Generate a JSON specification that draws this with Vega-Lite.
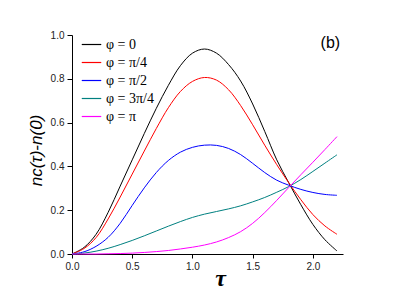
{
  "$schema": "https://vega.github.io/schema/vega-lite/v6.json",
  "width": 271,
  "height": 219,
  "autosize": {"type": "none"},
  "padding": {"left": 72, "top": 35, "right": 56, "bottom": 51},
  "background": "white",
  "config": {
    "view": {"stroke": null},
    "axis": {
      "domainColor": "#000000",
      "tickColor": "#000000",
      "labelFont": "Liberation Sans",
      "labelFontSize": 10,
      "labelColor": "#222222",
      "grid": false,
      "labelOverlap": false,
      "labelFlush": false,
      "labelBound": false
    },
    "legend": {"padding": 0}
  },
  "datasets": {
    "curves": [
      {"t": 0.0, "phi": "φ = 0", "v": 0.0},
      {"t": 0.1, "phi": "φ = 0", "v": 0.03},
      {"t": 0.2, "phi": "φ = 0", "v": 0.09},
      {"t": 0.3, "phi": "φ = 0", "v": 0.19},
      {"t": 0.4, "phi": "φ = 0", "v": 0.31},
      {"t": 0.5, "phi": "φ = 0", "v": 0.43},
      {"t": 0.6, "phi": "φ = 0", "v": 0.55},
      {"t": 0.7, "phi": "φ = 0", "v": 0.665},
      {"t": 0.8, "phi": "φ = 0", "v": 0.77},
      {"t": 0.9, "phi": "φ = 0", "v": 0.86},
      {"t": 1.0, "phi": "φ = 0", "v": 0.917},
      {"t": 1.1, "phi": "φ = 0", "v": 0.936},
      {"t": 1.2, "phi": "φ = 0", "v": 0.917},
      {"t": 1.3, "phi": "φ = 0", "v": 0.865},
      {"t": 1.4, "phi": "φ = 0", "v": 0.79},
      {"t": 1.5, "phi": "φ = 0", "v": 0.685},
      {"t": 1.6, "phi": "φ = 0", "v": 0.56},
      {"t": 1.7, "phi": "φ = 0", "v": 0.43},
      {"t": 1.8, "phi": "φ = 0", "v": 0.325},
      {"t": 1.9, "phi": "φ = 0", "v": 0.225},
      {"t": 2.0, "phi": "φ = 0", "v": 0.135},
      {"t": 2.1, "phi": "φ = 0", "v": 0.065},
      {"t": 2.2, "phi": "φ = 0", "v": 0.014},

      {"t": 0.0, "phi": "φ = π/4", "v": 0.0},
      {"t": 0.1, "phi": "φ = π/4", "v": 0.025},
      {"t": 0.2, "phi": "φ = π/4", "v": 0.075},
      {"t": 0.3, "phi": "φ = π/4", "v": 0.16},
      {"t": 0.4, "phi": "φ = π/4", "v": 0.26},
      {"t": 0.5, "phi": "φ = π/4", "v": 0.365},
      {"t": 0.6, "phi": "φ = π/4", "v": 0.47},
      {"t": 0.7, "phi": "φ = π/4", "v": 0.573},
      {"t": 0.8, "phi": "φ = π/4", "v": 0.668},
      {"t": 0.9, "phi": "φ = π/4", "v": 0.742},
      {"t": 1.0, "phi": "φ = π/4", "v": 0.788},
      {"t": 1.1, "phi": "φ = π/4", "v": 0.806},
      {"t": 1.2, "phi": "φ = π/4", "v": 0.794},
      {"t": 1.3, "phi": "φ = π/4", "v": 0.75},
      {"t": 1.4, "phi": "φ = π/4", "v": 0.678},
      {"t": 1.5, "phi": "φ = π/4", "v": 0.59},
      {"t": 1.6, "phi": "φ = π/4", "v": 0.497},
      {"t": 1.7, "phi": "φ = π/4", "v": 0.408},
      {"t": 1.8, "phi": "φ = π/4", "v": 0.325},
      {"t": 1.9, "phi": "φ = π/4", "v": 0.248},
      {"t": 2.0, "phi": "φ = π/4", "v": 0.18},
      {"t": 2.1, "phi": "φ = π/4", "v": 0.128},
      {"t": 2.2, "phi": "φ = π/4", "v": 0.09},

      {"t": 0.0, "phi": "φ = π/2", "v": 0.0},
      {"t": 0.1, "phi": "φ = π/2", "v": 0.01},
      {"t": 0.2, "phi": "φ = π/2", "v": 0.035},
      {"t": 0.3, "phi": "φ = π/2", "v": 0.076},
      {"t": 0.4, "phi": "φ = π/2", "v": 0.14},
      {"t": 0.5, "phi": "φ = π/2", "v": 0.222},
      {"t": 0.6, "phi": "φ = π/2", "v": 0.302},
      {"t": 0.7, "phi": "φ = π/2", "v": 0.372},
      {"t": 0.8, "phi": "φ = π/2", "v": 0.427},
      {"t": 0.9, "phi": "φ = π/2", "v": 0.465},
      {"t": 1.0, "phi": "φ = π/2", "v": 0.487},
      {"t": 1.1, "phi": "φ = π/2", "v": 0.497},
      {"t": 1.2, "phi": "φ = π/2", "v": 0.496},
      {"t": 1.3, "phi": "φ = π/2", "v": 0.482},
      {"t": 1.4, "phi": "φ = π/2", "v": 0.454},
      {"t": 1.5, "phi": "φ = π/2", "v": 0.414},
      {"t": 1.6, "phi": "φ = π/2", "v": 0.372},
      {"t": 1.7, "phi": "φ = π/2", "v": 0.337},
      {"t": 1.8, "phi": "φ = π/2", "v": 0.314},
      {"t": 1.9, "phi": "φ = π/2", "v": 0.295},
      {"t": 2.0, "phi": "φ = π/2", "v": 0.281},
      {"t": 2.1, "phi": "φ = π/2", "v": 0.272},
      {"t": 2.2, "phi": "φ = π/2", "v": 0.268},

      {"t": 0.0, "phi": "φ = 3π/4", "v": 0.0},
      {"t": 0.1, "phi": "φ = 3π/4", "v": 0.004},
      {"t": 0.2, "phi": "φ = 3π/4", "v": 0.013},
      {"t": 0.3, "phi": "φ = 3π/4", "v": 0.026},
      {"t": 0.4, "phi": "φ = 3π/4", "v": 0.043},
      {"t": 0.5, "phi": "φ = 3π/4", "v": 0.062},
      {"t": 0.6, "phi": "φ = 3π/4", "v": 0.083},
      {"t": 0.7, "phi": "φ = 3π/4", "v": 0.105},
      {"t": 0.8, "phi": "φ = 3π/4", "v": 0.127},
      {"t": 0.9, "phi": "φ = 3π/4", "v": 0.148},
      {"t": 1.0, "phi": "φ = 3π/4", "v": 0.167},
      {"t": 1.1, "phi": "φ = 3π/4", "v": 0.182},
      {"t": 1.2, "phi": "φ = 3π/4", "v": 0.194},
      {"t": 1.3, "phi": "φ = 3π/4", "v": 0.206},
      {"t": 1.4, "phi": "φ = 3π/4", "v": 0.22},
      {"t": 1.5, "phi": "φ = 3π/4", "v": 0.238},
      {"t": 1.6, "phi": "φ = 3π/4", "v": 0.258},
      {"t": 1.7, "phi": "φ = 3π/4", "v": 0.282},
      {"t": 1.8, "phi": "φ = 3π/4", "v": 0.308},
      {"t": 1.9, "phi": "φ = 3π/4", "v": 0.34},
      {"t": 2.0, "phi": "φ = 3π/4", "v": 0.377},
      {"t": 2.1, "phi": "φ = 3π/4", "v": 0.415},
      {"t": 2.2, "phi": "φ = 3π/4", "v": 0.453},

      {"t": 0.0, "phi": "φ = π", "v": 0.0},
      {"t": 0.1, "phi": "φ = π", "v": 0.0},
      {"t": 0.2, "phi": "φ = π", "v": 0.0},
      {"t": 0.3, "phi": "φ = π", "v": 0.001},
      {"t": 0.4, "phi": "φ = π", "v": 0.002},
      {"t": 0.5, "phi": "φ = π", "v": 0.004},
      {"t": 0.6, "phi": "φ = π", "v": 0.007},
      {"t": 0.7, "phi": "φ = π", "v": 0.011},
      {"t": 0.8, "phi": "φ = π", "v": 0.016},
      {"t": 0.9, "phi": "φ = π", "v": 0.023},
      {"t": 1.0, "phi": "φ = π", "v": 0.031},
      {"t": 1.1, "phi": "φ = π", "v": 0.041},
      {"t": 1.2, "phi": "φ = π", "v": 0.055},
      {"t": 1.3, "phi": "φ = π", "v": 0.075},
      {"t": 1.4, "phi": "φ = π", "v": 0.102},
      {"t": 1.5, "phi": "φ = π", "v": 0.14},
      {"t": 1.6, "phi": "φ = π", "v": 0.189},
      {"t": 1.7, "phi": "φ = π", "v": 0.245},
      {"t": 1.8, "phi": "φ = π", "v": 0.304},
      {"t": 1.9, "phi": "φ = π", "v": 0.362},
      {"t": 2.0, "phi": "φ = π", "v": 0.419},
      {"t": 2.1, "phi": "φ = π", "v": 0.477},
      {"t": 2.2, "phi": "φ = π", "v": 0.536}
    ]
  },
  "layer": [
    {
      "data": {"name": "curves"},
      "mark": {"type": "line", "strokeWidth": 1, "interpolate": "catmull-rom"},
      "encoding": {
        "x": {
          "field": "t",
          "type": "quantitative",
          "scale": {"domain": [0, 2.25], "nice": false, "zero": false},
          "axis": {
            "values": [0, 0.25, 0.5, 0.75, 1.0, 1.25, 1.5, 1.75, 2.0, 2.25],
            "format": ".1f",
            "labelExpr": "round(datum.value*4) % 2 == 0 ? datum.label : ''",
            "tickSize": 4,
            "labelPadding": 3,
            "title": "τ",
            "titleFont": "Liberation Serif",
            "titleFontStyle": "italic",
            "titleFontWeight": "bold",
            "titleFontSize": 24,
            "titleColor": "#000000",
            "titleX": 148,
            "titleY": 31,
            "titleAlign": "center",
            "titleBaseline": "alphabetic"
          }
        },
        "y": {
          "field": "v",
          "type": "quantitative",
          "scale": {"domain": [0, 1], "nice": false},
          "axis": {
            "values": [0, 0.1, 0.2, 0.3, 0.4, 0.5, 0.6, 0.7, 0.8, 0.9, 1.0],
            "format": ".1f",
            "labelExpr": "round(datum.value*10) % 2 == 0 ? datum.label : ''",
            "tickSize": 5,
            "labelPadding": 3,
            "title": "nc(τ)-n(0)",
            "titleFont": "Liberation Sans",
            "titleFontStyle": "italic",
            "titleFontWeight": "normal",
            "titleFontSize": 17,
            "titleColor": "#000000",
            "titleAngle": -90,
            "titleX": -31,
            "titleY": 115,
            "titleAlign": "center",
            "titleBaseline": "alphabetic"
          }
        },
        "color": {
          "field": "phi",
          "type": "nominal",
          "scale": {
            "domain": ["φ = 0", "φ = π/4", "φ = π/2", "φ = 3π/4", "φ = π"],
            "range": ["#000000", "#ff0000", "#0000ff", "#008080", "#ff00ff"]
          },
          "legend": {
            "orient": "none",
            "legendX": 9,
            "legendY": -1,
            "title": null,
            "symbolType": "stroke",
            "symbolSize": 380,
            "symbolStrokeWidth": 1.2,
            "labelFont": "Liberation Serif",
            "labelFontSize": 14,
            "labelColor": "#000000",
            "labelOffset": 4,
            "rowPadding": -3
          }
        }
      }
    },
    {
      "data": {"values": [{}]},
      "mark": {"type": "text", "font": "Liberation Sans", "fontSize": 16, "color": "#000000", "align": "center", "baseline": "middle"},
      "encoding": {
        "x": {"datum": 2.145},
        "y": {"datum": 0.962},
        "text": {"value": "(b)"}
      }
    }
  ]
}
